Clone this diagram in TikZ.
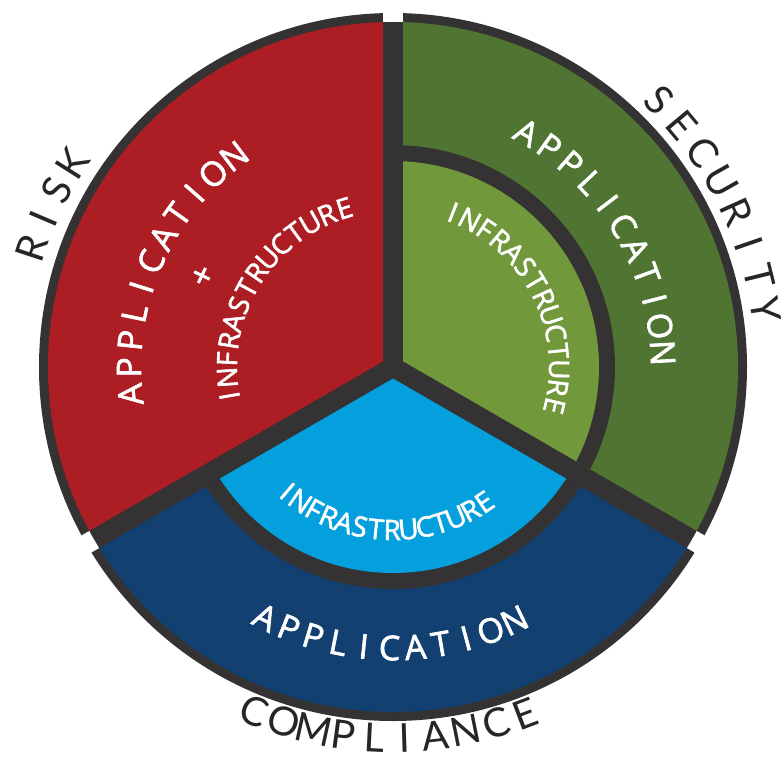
\documentclass[tikz,border=0pt]{standalone}
\usepackage{fontspec}
\setmainfont{Open Sans}
\newfontfamily\bandfont{Open Sans}[FakeBold=2]
\newfontfamily\labelfont{Lato}

\definecolor{rimgray}{RGB}{52,50,50}
\definecolor{riskred}{RGB}{172,30,36}
\definecolor{secgreen}{RGB}{80,117,50}
\definecolor{secgreenlight}{RGB}{113,152,58}
\definecolor{compblue}{RGB}{18,64,112}
\definecolor{compbluelight}{RGB}{4,160,222}

\begin{document}
\begin{tikzpicture}
[x=1pt,y=1pt,
  bandletter/.style={text=white,inner sep=0pt,font=\bandfont\fontsize{34}{34}\selectfont},%
  coreletter/.style={text=white,inner sep=0pt,font=\bandfont\fontsize{28}{28}\selectfont},%
  outerletter/.style={text=black!85,inner sep=0pt,font=\labelfont\fontsize{40}{40}\selectfont}]
\useasboundingbox (-393,-391) rectangle (391,367);
%% bars between the sectors
\fill[rimgray] (0,0) circle (345);
%% sectors: middle angle, band, ring and core colours
\foreach \mid/\band/\ring/\core in {150/riskred/riskred/riskred,
  30/secgreen/rimgray/secgreenlight, 270/compblue/rimgray/compbluelight} {
  \begin{scope}
    \clip (\mid:11.55) -- +({\mid+60}:600) -- +(\mid:800) -- +({\mid-60}:600) -- cycle;
    \fill[rimgray] (0,0) circle (354);
    \fill[\band] (0,0) circle (345);
    \fill[\ring] (0,0) circle (222);
    \fill[\core] (0,0) circle (206);
  \end{scope}
}
%% red sector
\foreach \ch [count=\i from 0, evaluate=\i as \a using 186-5.9*\i] in {A,P,P,L,I,C,A,T,I,O,N}
  \node[bandletter,rotate=\a-90] (riskapp\i) at (\a:264) {\ch};
\node[bandletter,rotate=64.4] (riskplus) at (154.4:210) {+};
\foreach \ch [count=\i from 0, evaluate=\i as \a using 190-6.38*\i] in {I,N,F,R,A,S,T,R,U,C,T,U,R,E}
  \node[coreletter,rotate=\a-90] (riskinfra\i) at (\a:166) {\ch};
%% green sector
\foreach \ch [count=\i from 0, evaluate=\i as \a using 60.3-5.73*\i] in {A,P,P,L,I,C,A,T,I,O,N}
  \node[bandletter,rotate=\a-90] (secapp\i) at (\a:270) {\ch};
\foreach \ch [count=\i from 0, evaluate=\i as \a using 68.8-6.33*\i] in {I,N,F,R,A,S,T,R,U,C,T,U,R,E}
  \node[coreletter,rotate=\a-90] (secinfra\i) at (\a:166) {\ch};
%% blue sector
\foreach \ch [count=\i from 0, evaluate=\i as \a using -117+5.26*\i] in {A,P,P,L,I,C,A,T,I,O,N}
  \node[bandletter,rotate=\a+90] (compapp\i) at (\a:281) {\ch};
\foreach \ch [count=\i from 0, evaluate=\i as \a using -130.4+5.73*\i] in {I,N,F,R,A,S,T,R,U,C,T,U,R,E}
  \node[coreletter,rotate=\a+90] (compinfra\i) at (\a:163) {\ch};
%% labels round the circle
\foreach \ch [count=\i from 0, evaluate=\i as \a using 161.7-4.7*\i] in {R,I,S,K}
  \node[outerletter,rotate=\a-90] (risk\i) at (\a:380) {\ch};
\foreach \ch [count=\i from 0, evaluate=\i as \a using 45.1-5.2*\i] in {S,E,C,U,R,I,T,Y}
  \node[outerletter,rotate=\a-90] (security\i) at (\a:377) {\ch};
\foreach \ch [count=\i from 0, evaluate=\i as \a using -111.9+4.75*\i] in {C,O,M,P,L,I,A,N,C,E}
  \node[outerletter,rotate=\a+90] (compliance\i) at (\a:371) {\ch};
\end{tikzpicture}
\end{document}
